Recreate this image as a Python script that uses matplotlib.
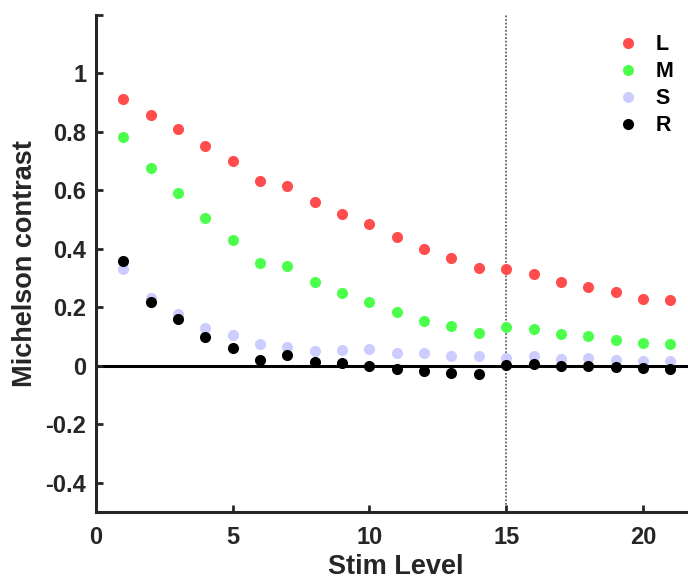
import numpy as np
import matplotlib
matplotlib.use("Agg")
import matplotlib.pyplot as plt

plt.rcParams['font.family'] = ['Liberation Sans', 'DejaVu Sans']

stim = np.arange(1, 22)
L = [0.911, 0.857, 0.809, 0.751, 0.700, 0.633, 0.616, 0.561, 0.520, 0.485,
     0.439, 0.399, 0.370, 0.336, 0.332, 0.315, 0.286, 0.271, 0.251, 0.230, 0.226]
M = [0.784, 0.677, 0.591, 0.504, 0.432, 0.353, 0.343, 0.286, 0.250, 0.219,
     0.183, 0.153, 0.135, 0.111, 0.134, 0.125, 0.108, 0.101, 0.090, 0.077, 0.073]
S = [0.330, 0.233, 0.178, 0.130, 0.104, 0.075, 0.063, 0.049, 0.053, 0.058,
     0.044, 0.045, 0.032, 0.032, 0.026, 0.032, 0.023, 0.026, 0.021, 0.018, 0.018]
R = [0.360, 0.219, 0.160, 0.099, 0.061, 0.020, 0.038, 0.013, 0.009, -0.002,
     -0.011, -0.017, -0.023, -0.027, 0.003, 0.007, -0.002, 0.000, -0.005, -0.008, -0.011]

series = [('L', L, '#ff4d4d'), ('M', M, '#4dff4d'),
          ('S', S, '#ccccff'), ('R', R, '#000000')]

W, H = 688, 579
fig = plt.figure(figsize=(W / 100, H / 100), dpi=100)
ax = fig.add_axes([96 / W, 1 - 512 / H, (W - 96) / W + 0.01, (512 - 15) / H])

ax.axhline(0, color='black', lw=2.2, zorder=1)
ax.axvline(15, color='#666666', lw=1.3, ls=(0, (1, 1)), zorder=1)

for name, vals, col in series:
    ax.plot(stim, vals, 'o', color=col, ms=8, mec='none', label=name, zorder=3)

ax.set_xlim(0, 21.9)
ax.set_ylim(-0.5, 1.2)
ax.set_xticks([0, 5, 10, 15, 20])
ax.set_yticks([-0.4, -0.2, 0, 0.2, 0.4, 0.6, 0.8, 1.0, 1.2])
ax.set_yticklabels(['-0.4', '-0.2', '0', '0.2', '0.4', '0.6', '0.8', '1', ''])

dark = '#262626'
for side in ['top', 'right']:
    ax.spines[side].set_visible(False)
for side in ['left', 'bottom']:
    ax.spines[side].set_linewidth(2.2)
    ax.spines[side].set_color(dark)
ax.tick_params(direction='in', length=5, width=2, colors=dark, labelsize=17)
ax.tick_params(axis='x', pad=10)
ax.tick_params(axis='y', pad=7)
for lab in ax.get_xticklabels() + ax.get_yticklabels():
    lab.set_fontweight('bold')

ax.set_xlabel('Stim Level', fontsize=19.5, fontweight='bold', color=dark, labelpad=4)
ax.set_ylabel('Michelson contrast', fontsize=19.5, fontweight='bold', color=dark, labelpad=5)

leg = ax.legend(loc='upper right', bbox_to_anchor=(0.997, 1.0), frameon=False,
                handletextpad=0.8, handlelength=1.0, labelspacing=0.28,
                prop={'weight': 'bold', 'size': 15.5})

fig.savefig('out.png', dpi=100)
